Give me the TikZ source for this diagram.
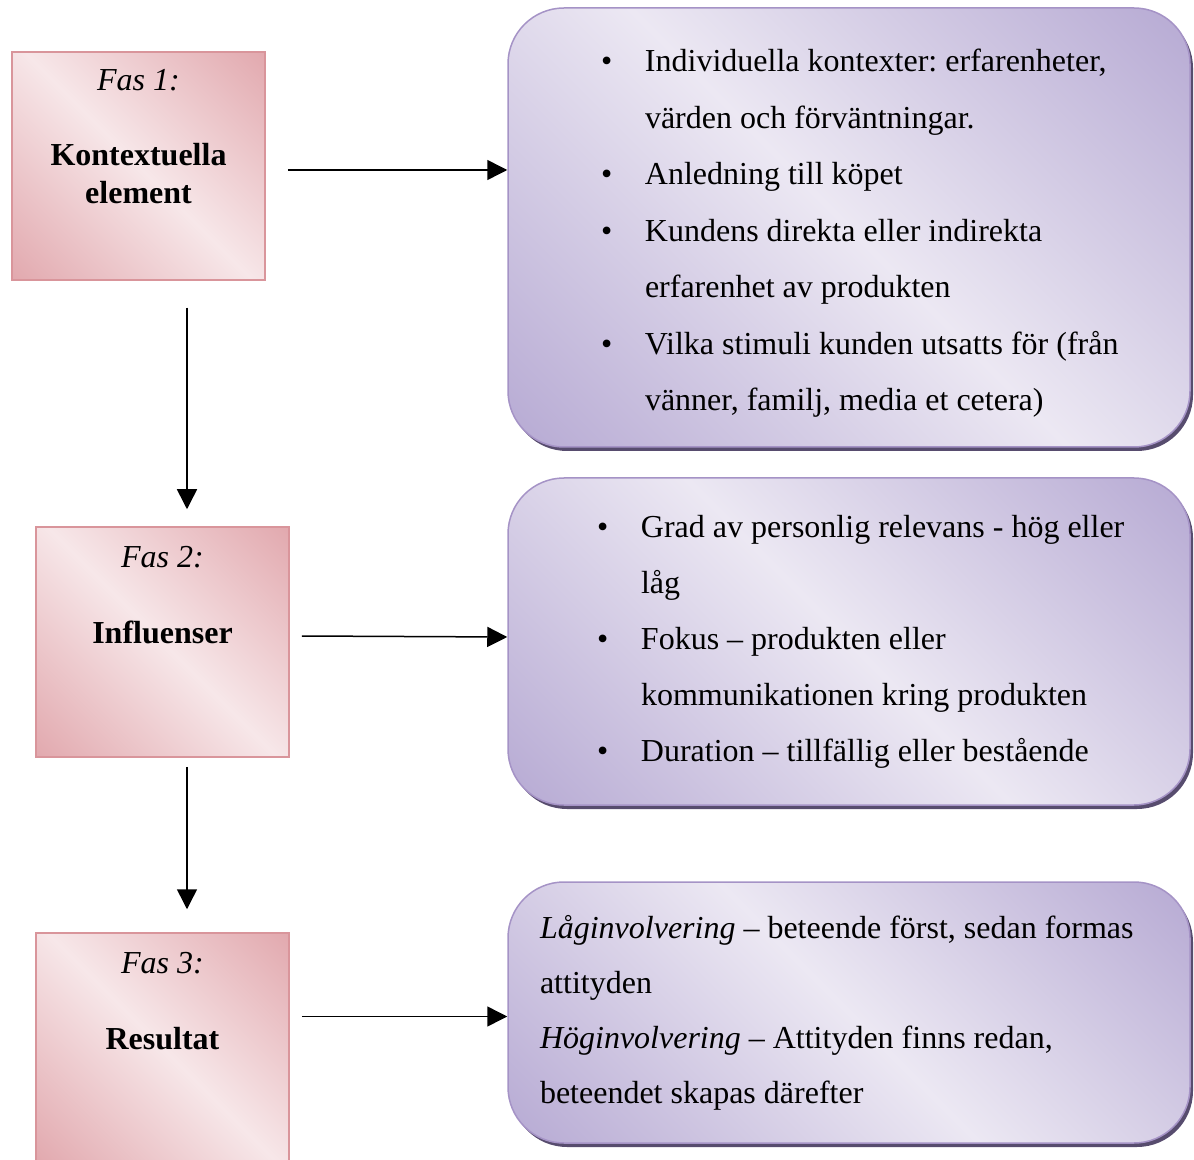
\documentclass[tikz,border=0pt]{standalone}
\usepackage{fontspec}
\setmainfont{Liberation Serif}
\usetikzlibrary{arrows.meta,shadows}
\hfuzz=30pt
\frenchspacing

\definecolor{rosa}{HTML}{D98F96}
\definecolor{rosaljus}{HTML}{F7E7E9}
\definecolor{rosakant}{HTML}{D9959B}
\definecolor{lila}{HTML}{A090C6}
\definecolor{lilaljus}{HTML}{ECE8F3}
\definecolor{lilakant}{HTML}{A593C6}
\definecolor{lilaskugga}{HTML}{45385E}

\pgfdeclareverticalshading{rosafas}{100bp}{color(0bp)=(rosa); color(50bp)=(rosaljus); color(100bp)=(rosa)}
\pgfdeclareverticalshading{lilafas}{100bp}{color(0bp)=(lila); color(50bp)=(lilaljus); color(100bp)=(lila)}

\newcommand{\rad}[1]{\mbox{\spaceskip=0pt\xspaceskip=0pt #1}}
\newcommand{\punkt}[1]{\rad{\makebox[22pt][l]{\textbullet}#1}}
\newcommand{\indrag}[1]{\rad{\hspace*{22pt}#1}}

\tikzset{
  fas/.style={draw=rosakant, line width=0.75pt, shading=rosafas, shading angle=-45,
    minimum width=126.5pt, inner sep=0pt,
    drop shadow={shadow xshift=0.7pt, shadow yshift=-0.7pt, fill=black!80, opacity=0.9}},
  ruta/.style={draw=lilakant, line width=0.75pt, rounded corners=28pt, shading=lilafas,
    shading angle=-45, minimum width=341pt, inner sep=0pt, align=left,
    font=\fontsize{16}{28}\selectfont,
    drop shadow={shadow xshift=1.5pt, shadow yshift=-2pt, fill=lilaskugga, opacity=0.9}},
  pil/.style={line width=0.75pt, -{Triangle[length=10pt,width=10pt]}}
}

\begin{document}
\begin{tikzpicture}[x=0.5pt, y=-0.5pt]
    \useasboundingbox (0,0) rectangle (1194,1160);
    \clip (0,0) rectangle (1194,1160);

    % faserna
    \node[fas, minimum height=114pt] (k1) at (138.5,166)
      {\parbox[c][114pt][t]{124pt}{\centering\fontsize{16}{19}\selectfont\vspace*{8.8pt}%
       \textit{Fas 1:}\\[18.5pt]\textbf{Kontextuella}\\\textbf{element}}};
    \node[fas, minimum height=115pt] (k2) at (162.5,642)
      {\parbox[c][115pt][t]{124pt}{\centering\fontsize{16}{19}\selectfont\vspace*{9.5pt}%
       \textit{Fas 2:}\\[19pt]\textbf{Influenser}}};
    \node[fas, minimum height=115pt] (k3) at (162.5,1048)
      {\parbox[c][115pt][t]{124pt}{\centering\fontsize{16}{19}\selectfont\vspace*{9.5pt}%
       \textit{Fas 3:}\\[19pt]\textbf{Resultat}}};

    % rutorna
    \node[ruta, minimum height=219.5pt, text width=248pt,
      font=\fontsize{16}{28.25}\selectfont] (p1) at (849,227.5)
      {\punkt{\rule{0pt}{17pt}Individuella kontexter: erfarenheter,}\\
       \indrag{värden och förväntningar.}\\
       \punkt{Anledning till köpet}\\
       \punkt{Kundens direkta eller indirekta}\\
       \indrag{erfarenhet av produkten}\\
       \punkt{Vilka stimuli kunden utsatts för (från}\\
       \indrag{vänner, familj, media et cetera)}};
    \node[ruta, minimum height=163.5pt, text width=252pt] (p2) at (849,641.5)
      {\punkt{Grad av personlig relevans - hög eller}\\
       \indrag{låg}\\
       \punkt{Fokus – produkten eller}\\
       \indrag{kommunikationen kring produkten}\\
       \punkt{Duration – tillfällig eller bestående}};
    \node[ruta, minimum height=130.5pt, text width=309pt,
      font=\fontsize{16}{27.5}\selectfont] (p3) at (849,1012.5)
      {\rad{\textit{Låginvolvering} – beteende först, sedan formas}\\
       \rad{attityden}\\
       \rad{\textit{Höginvolvering} – Attityden finns redan,}\\
       \rad{beteendet skapas därefter}};

    % pilar
    \draw[pil] ([shift={(11pt,-2pt)}]k1.east) -- ([yshift=-2pt]k1.east -| p1.west);
    \draw[pil] ([shift={(6pt,3pt)}]k2.east) -- ([yshift=2.5pt]k2.east -| p2.west);
    \draw[pil] ([yshift=-2pt]p3.west -| k3.east) ++(6pt,0) -- ([yshift=-2pt]p3.west);
    \draw[pil] ([shift={(24.25pt,-13.5pt)}]k1.south) -- ([shift={(12.25pt,8.5pt)}]k2.north);
    \draw[pil] ([shift={(12.25pt,-4.5pt)}]k2.south) -- ([shift={(12.25pt,11.5pt)}]k3.north);
\end{tikzpicture}
\end{document}
